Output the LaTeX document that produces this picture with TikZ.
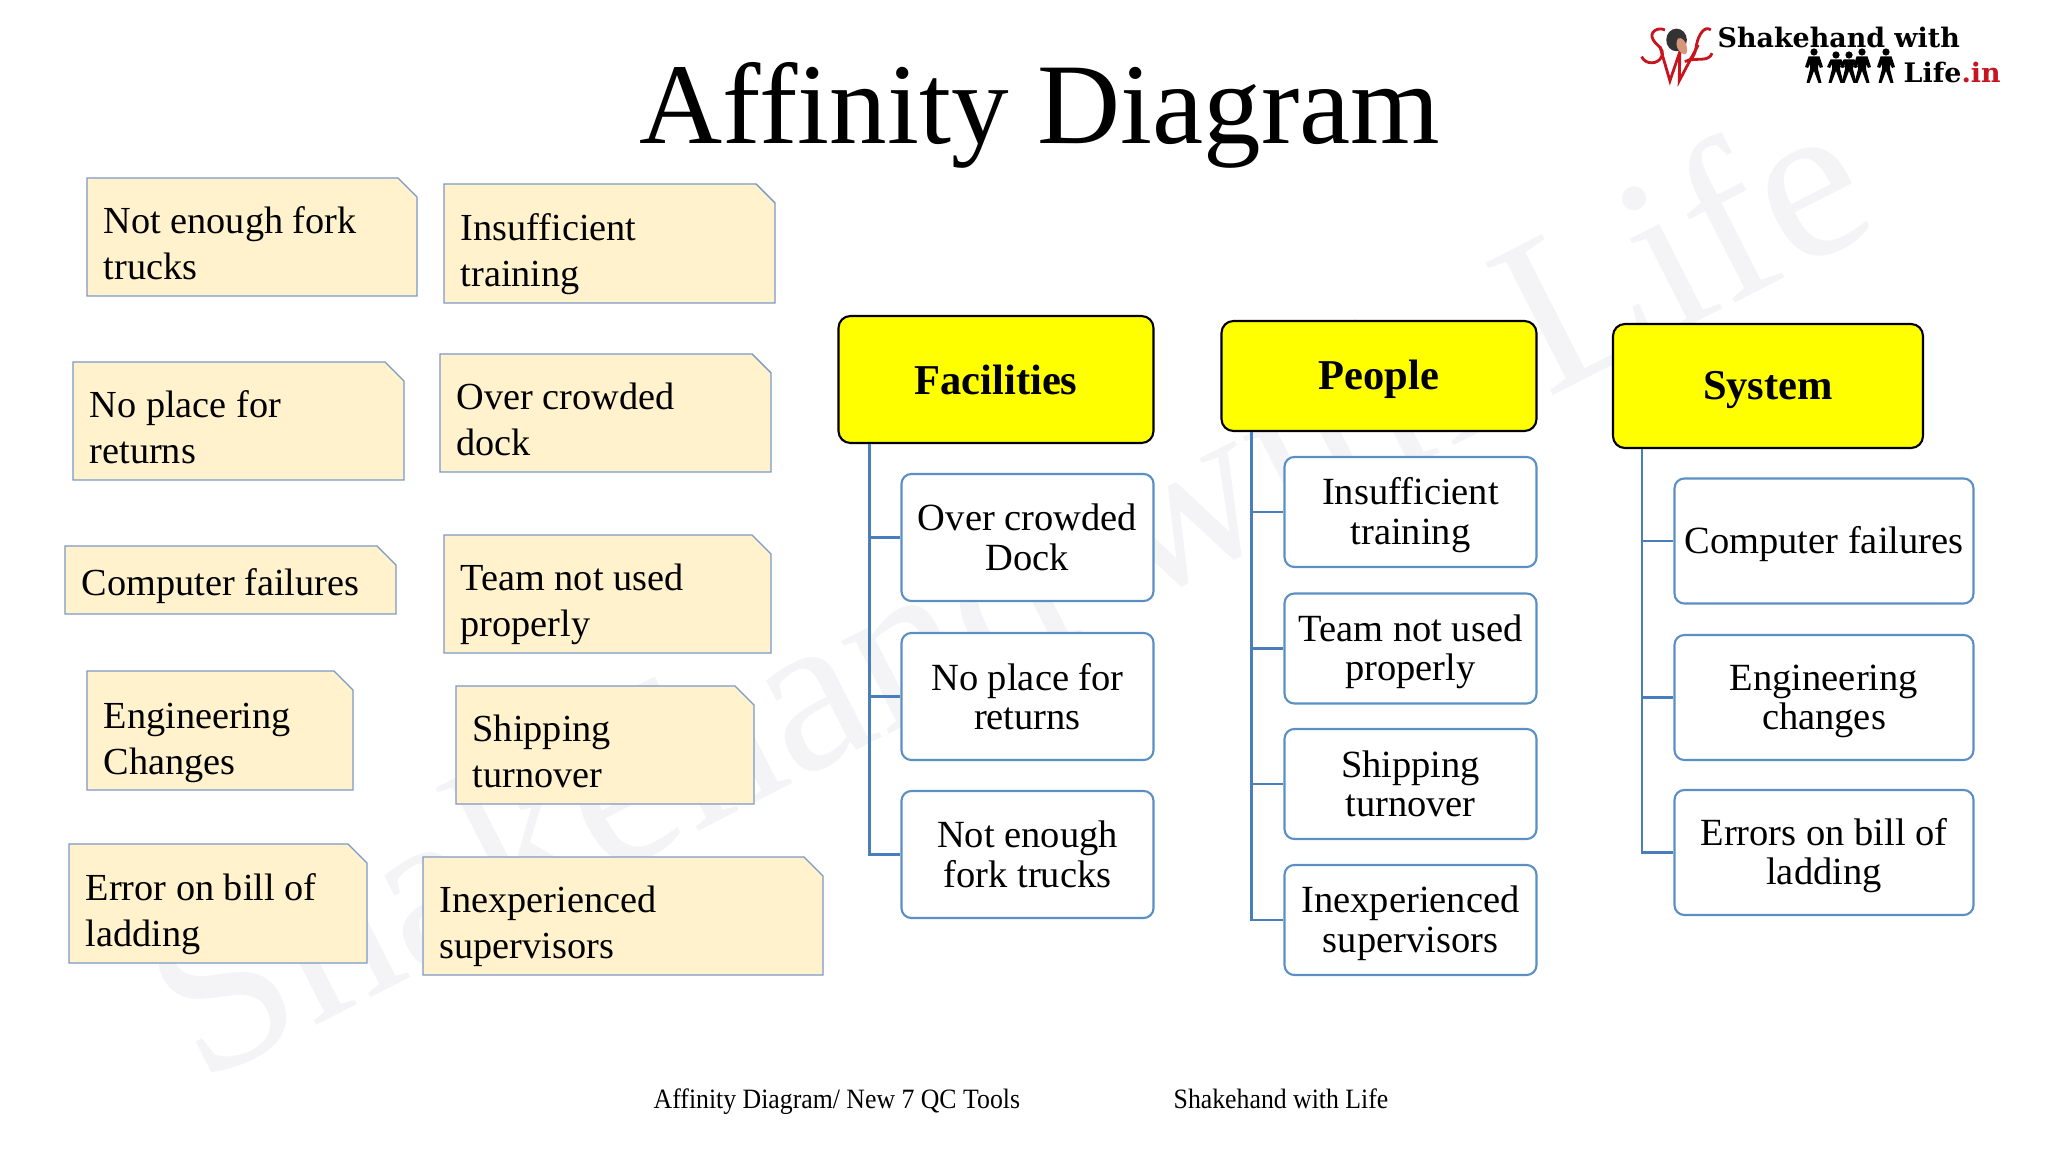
\documentclass[tikz,border=0pt]{standalone}
\usepackage{fontspec}
\setmainfont{Liberation Serif}
\newfontfamily\footfont[FakeStretch=0.92]{Liberation Serif}
\newfontfamily\logofont{DejaVu Serif}
\usetikzlibrary{calc}
\definecolor{noteyellow}{RGB}{255,242,204}
\definecolor{noteedge}{RGB}{124,152,198}
\definecolor{itemedge}{RGB}{91,143,196}
\definecolor{trunkblue}{RGB}{74,126,187}
\definecolor{markgrey}{RGB}{244,244,247}
\definecolor{logored}{RGB}{200,20,30}
\definecolor{catyellow}{RGB}{255,255,0}
\definecolor{skintone}{RGB}{214,150,120}
\tikzset{
    notebox/.style={draw=noteedge, fill=noteyellow, line width=0.4pt},
    notetext/.style={anchor=west, align=left, inner xsep=0.16cm, inner ysep=0pt,
                     font=\fontsize{10.89}{13.1}\selectfont},
    catbox/.style 2 args={draw=black, fill=catyellow, rounded corners=3.4pt, line width=0.6pt,
                 minimum width=#1cm, minimum height=#2cm, inner sep=0pt, align=center,
                 font=\fontsize{12.1}{14}\selectfont\bfseries},
    itembox/.style 2 args={draw=itemedge, fill=white, rounded corners=2.8pt, line width=0.6pt,
                 minimum width=#1cm, minimum height=#2cm, inner sep=0pt, align=center,
                 font=\fontsize{10.95}{11.2}\selectfont},
    dropped/.style={execute at begin node={\rule{0pt}{#1}}},
    link/.style={draw=trunkblue, line width=0.6pt},
    footline/.style={anchor=base west, inner sep=0pt, font=\footfont\fontsize{7.97}{9}\selectfont},
    logoline/.style={anchor=base west, inner sep=0pt, font=\logofont\bfseries\fontsize{7.65}{9}\selectfont},
}
\newcommand{\stickynote}[7]{
    \draw[notebox] (#2,#3) -- ({#4-0.19},#3) -- (#4,{#3-0.19}) -- (#4,#5) -- (#2,#5) -- cycle;
    \node[notetext] (#1) at (#2,{(#3+#5)/2-#6}) {#7};
}
\newcommand{\person}[3]{
    \begin{scope}[shift={(#1,-0.52)}, yscale=#3]
        \fill[black] (0,#2) circle (0.036);
        \fill[black] (-0.055,{#2-0.045}) -- (0.055,{#2-0.045}) -- (0.09,-0.15) -- (0.06,-0.16)
            -- (0.04,-0.12) -- (0.04,-0.17) -- (0.075,-0.31) -- (0.045,-0.31) -- (0,-0.19)
            -- (-0.045,-0.31) -- (-0.075,-0.31) -- (-0.04,-0.17) -- (-0.04,-0.12)
            -- (-0.06,-0.16) -- (-0.09,-0.15) -- cycle;
    \end{scope}
}
\newcommand{\lowertext}{\mbox{}\\[-1.7pt]}
\begin{document}
\begin{tikzpicture}
    \useasboundingbox (0,0) rectangle (20.48,-11.52);
    \node[anchor=base west, rotate=27, inner sep=0pt, text=markgrey,
          font=\fontsize{64.5}{70}\selectfont] (mark) at (2.00,-10.85) {Shakehand with Life};

    \node[anchor=base, inner sep=0pt, font=\fontsize{32.75}{40}\selectfont] (title) at (10.40,-1.44) {Affinity Diagram};

    \stickynote{noteA}{0.87}{-1.78}{4.17}{-2.96}{0.065}{Not enough fork\\trucks}
    \stickynote{noteB}{4.44}{-1.84}{7.75}{-3.03}{0.105}{Insufficient\\training}
    \stickynote{noteC}{0.73}{-3.62}{4.04}{-4.80}{0.065}{No place for\\returns}
    \stickynote{noteD}{4.40}{-3.54}{7.71}{-4.72}{0.065}{Over crowded\\dock}
    \stickynote{noteE}{0.65}{-5.46}{3.96}{-6.14}{0.065}{Computer failures}
    \stickynote{noteF}{4.44}{-5.35}{7.71}{-6.53}{0.105}{Team not used\\properly}
    \stickynote{noteG}{0.87}{-6.71}{3.53}{-7.90}{0.12}{Engineering\\Changes}
    \stickynote{noteH}{4.56}{-6.86}{7.54}{-8.04}{0.065}{Shipping\\turnover}
    \stickynote{noteI}{0.69}{-8.44}{3.67}{-9.63}{0.105}{Error on bill of\\ladding}
    \stickynote{noteJ}{4.23}{-8.57}{8.23}{-9.75}{0.105}{Inexperienced\\supervisors}

    \node[catbox={3.15}{1.27}] (facilities) at (9.96,-3.795) {Facilities};
    \node[catbox={3.15}{1.10}, dropped=10.4pt] (people) at (13.79,-3.76) {People};
    \node[catbox={3.10}{1.24}, dropped=10.4pt] (system) at (17.68,-3.86) {System};

    \node[itembox={2.52}{1.27}] (facA) at (10.275,-5.375) {Over crowded\\Dock};
    \node[itembox={2.52}{1.27}] (facB) at (10.275,-6.965) {No place for\\returns};
    \node[itembox={2.52}{1.27}] (facC) at (10.275,-8.545) {Not enough\\fork trucks};

    \node[itembox={2.52}{1.10}] (peoA) at (14.105,-5.12) {\lowertext Insufficient\\training};
    \node[itembox={2.52}{1.10}] (peoB) at (14.105,-6.485) {\lowertext Team not used\\properly};
    \node[itembox={2.52}{1.10}] (peoC) at (14.105,-7.84) {Shipping\\turnover};
    \node[itembox={2.52}{1.10}] (peoD) at (14.105,-9.20) {\lowertext Inexperienced\\supervisors};

    \node[itembox={2.99}{1.25}, dropped=9.2pt] (sysA) at (18.24,-5.41) {Computer failures};
    \node[itembox={2.99}{1.25}] (sysB) at (18.24,-6.975) {\lowertext Engineering\\changes};
    \node[itembox={2.99}{1.25}] (sysC) at (18.24,-8.525) {\lowertext Errors on bill of\\ladding};

    \foreach \kid in {facA,facB,facC}
        \draw[link] ($(facilities.south west)+(0.32,0)$) |- (\kid.west);
    \foreach \kid in {peoA,peoB,peoC,peoD}
        \draw[link] ($(people.south west)+(0.31,0)$) |- (\kid.west);
    \foreach \kid in {sysA,sysB,sysC}
        \draw[link] ($(system.south west)+(0.30,0)$) |- (\kid.west);

    \node[footline] (footleft) at (6.53,-11.08) {Affinity Diagram/ New 7 QC Tools};
    \node[footline] (footright) at (11.73,-11.08) {Shakehand with Life};

    \begin{scope}[shift={(16.30,-0.15)}, x=0.00333cm, y=-0.00333cm]
        \draw[logored, line width=0.8pt] (105,45) .. controls (85,35) and (55,50) .. (70,75)
            .. controls (82,95) and (105,100) .. (95,125) .. controls (85,150) and (45,150) .. (35,125);
        \draw[logored, line width=0.8pt] (90,95) -- (120,198) -- (150,110) -- (148,198) -- (205,90);
        \draw[logored, line width=0.8pt] (243,45) .. controls (225,30) and (205,60) .. (200,90)
            .. controls (195,125) and (185,135) .. (165,140) .. controls (195,125) and (235,145) .. (247,115);
        \fill[black!80] (140,75) ellipse (31 and 34);
        \fill[skintone] (145,70) .. controls (165,65) and (178,100) .. (168,118)
            .. controls (150,120) and (130,90) .. (145,70);
    \end{scope}
    \node[logoline] (logotop) at (17.17,-0.48) {Shakehand with};
    \node[logoline] (logobottom) at (19.03,-0.83) {Life\textcolor{logored}{.in}};
    \person{18.14}{0.0}{1}
    \person{18.36}{-0.03}{1}
    \person{18.49}{-0.03}{1}
    \person{18.62}{0.0}{1}
    \person{18.86}{0.0}{1}
\end{tikzpicture}
\end{document}
